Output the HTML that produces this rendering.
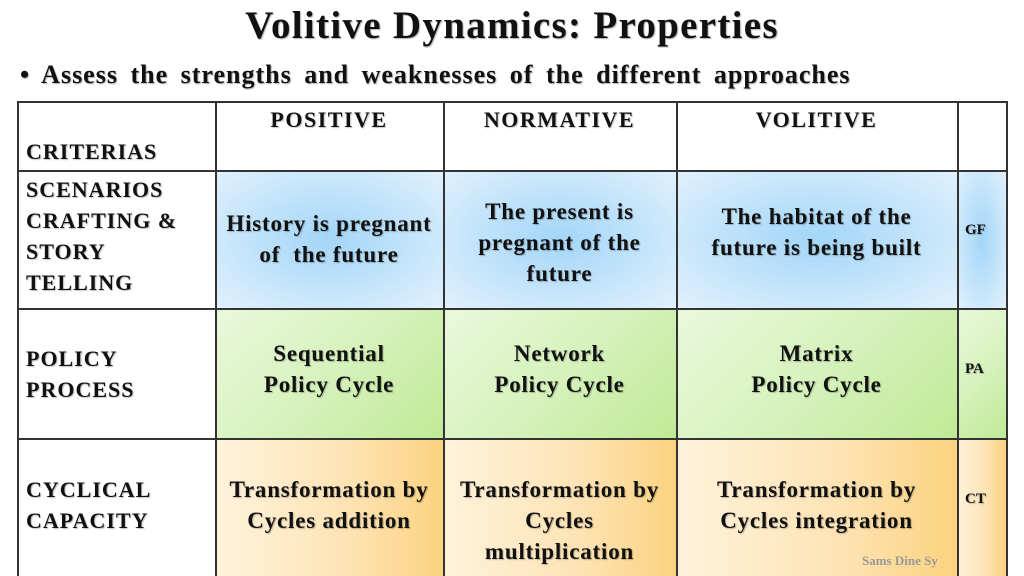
<!DOCTYPE html>
<html><head><meta charset="utf-8"><style>
*{margin:0;padding:0;box-sizing:border-box}
body{width:1024px;height:576px;background:#fff;position:relative;overflow:hidden;font-family:"Liberation Serif",serif;font-weight:bold;color:#111}
.t{position:absolute;text-shadow:1px 1px 1px rgba(0,0,0,.3)}
.c{position:absolute;display:flex;align-items:center;justify-content:center;text-align:center;font-size:23px;letter-spacing:0.8px;line-height:31px;text-shadow:1px 1px 1px rgba(0,0,0,.25)}
.b{background:radial-gradient(ellipse at 50% 50%,#a3d6f8 0%,#bfe2fa 45%,#e2f1fd 100%)}
.g{background:linear-gradient(135deg,#eaf8dc 0%,#d6f2bd 50%,#bfea96 100%)}
.o{background:linear-gradient(90deg,#fff2dc 0%,#fde3b3 60%,#fcd27e 100%)}
.l{position:absolute;background:#333}
.lab{position:absolute;font-size:22px;letter-spacing:1px;line-height:31px;text-shadow:1px 1px 1px rgba(0,0,0,.25)}
.h{position:absolute;font-size:22px;letter-spacing:1.5px;text-align:center;text-shadow:1px 1px 1px rgba(0,0,0,.25)}
.s{position:absolute;font-size:15px;text-shadow:1px 1px 1px rgba(0,0,0,.25)}
</style></head><body>
<div class="t" style="left:0;width:1024px;text-align:center;top:3px;font-size:39px;letter-spacing:1.3px">Volitive Dynamics: Properties</div>
<div class="t" style="left:20px;top:60px;font-size:26px;letter-spacing:1px;word-spacing:5px;white-space:nowrap">• Assess the strengths and weaknesses of the different approaches</div>

<div class="c b" style="left:215px;top:170px;width:228px;height:138px">History is pregnant<br>of&nbsp; the future</div>
<div class="c b" style="left:443px;top:170px;width:233px;height:138px;padding-top:6px">The present is<br>pregnant of the<br>future</div>
<div class="c b" style="left:676px;top:170px;width:281px;height:138px;padding-bottom:14px">The habitat of&nbsp;the<br>future is being built</div>
<div class="c b" style="left:957px;top:170px;width:49px;height:138px"></div>
<div class="c g" style="left:215px;top:308px;width:228px;height:130px;padding-bottom:8px">Sequential<br>Policy Cycle</div>
<div class="c g" style="left:443px;top:308px;width:233px;height:130px;padding-bottom:8px">Network<br>Policy Cycle</div>
<div class="c g" style="left:676px;top:308px;width:281px;height:130px;padding-bottom:8px">Matrix<br>Policy Cycle</div>
<div class="c g" style="left:957px;top:308px;width:49px;height:130px"></div>
<div class="c o" style="left:215px;top:438px;width:228px;height:138px;align-items:flex-start;padding-top:36px">Transformation by<br>Cycles addition</div>
<div class="c o" style="left:443px;top:438px;width:233px;height:138px;align-items:flex-start;padding-top:36px">Transformation by<br>Cycles<br>multiplication</div>
<div class="c o" style="left:676px;top:438px;width:281px;height:138px;align-items:flex-start;padding-top:36px">Transformation by<br>Cycles integration</div>
<div class="c o" style="left:957px;top:438px;width:49px;height:138px"></div>

<div class="l" style="left:17px;top:101px;width:990px;height:1.5px"></div>
<div class="l" style="left:17px;top:170px;width:990px;height:1.5px"></div>
<div class="l" style="left:17px;top:308px;width:990px;height:1.5px"></div>
<div class="l" style="left:17px;top:438px;width:990px;height:1.5px"></div>
<div class="l" style="left:17px;top:101px;width:1.5px;height:475px"></div>
<div class="l" style="left:215px;top:101px;width:1.5px;height:475px"></div>
<div class="l" style="left:443px;top:101px;width:1.5px;height:475px"></div>
<div class="l" style="left:676px;top:101px;width:1.5px;height:475px"></div>
<div class="l" style="left:957px;top:101px;width:1.5px;height:475px"></div>
<div class="l" style="left:1006px;top:101px;width:1.5px;height:475px"></div>

<div class="h" style="left:215px;width:228px;top:107px">POSITIVE</div>
<div class="h" style="left:443px;width:233px;top:107px">NORMATIVE</div>
<div class="h" style="left:676px;width:281px;top:107px">VOLITIVE</div>
<div class="lab" style="left:26px;top:136px">CRITERIAS</div>
<div class="lab" style="left:26px;top:174px">SCENARIOS<br>CRAFTING &amp;<br>STORY<br>TELLING</div>
<div class="lab" style="left:26px;top:343px">POLICY<br>PROCESS</div>
<div class="lab" style="left:26px;top:474px">CYCLICAL<br>CAPACITY</div>
<div class="s" style="left:965px;top:222px">GF</div>
<div class="s" style="left:965px;top:361px">PA</div>
<div class="s" style="left:965px;top:491px">CT</div>
<div style="position:absolute;left:862px;top:553px;font-size:13px;color:#999">Sams Dine Sy</div>
</body></html>
